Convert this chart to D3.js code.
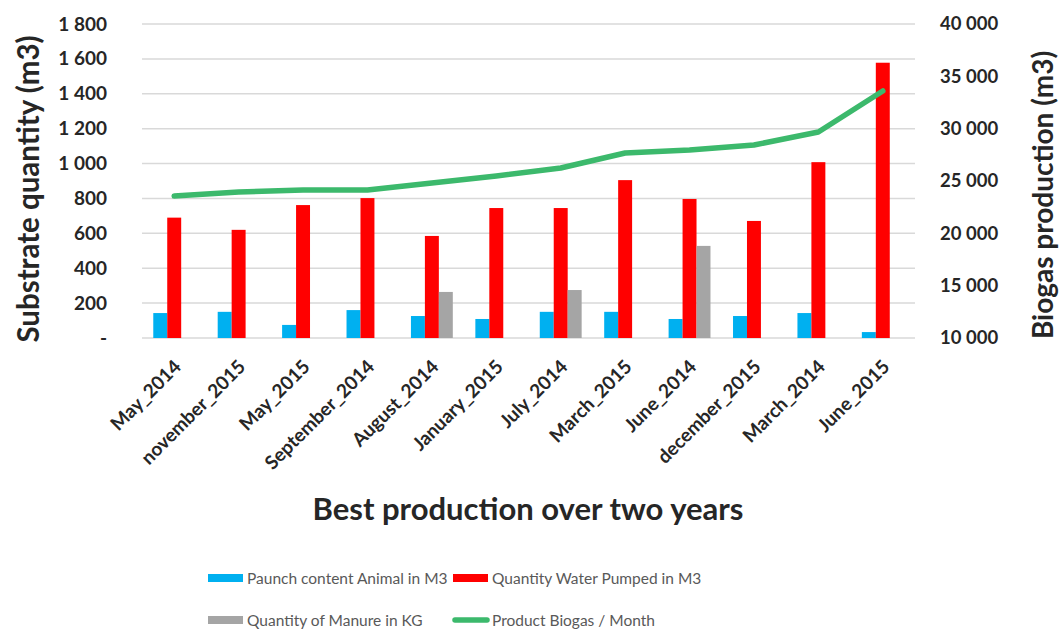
<!DOCTYPE html>
<html>
  <head>
    <meta charset="utf-8" />
    <title>Best production over two years</title>
    <style>
      body { margin: 0; background: #fff; }
      text { font-family: Lato, "Open Sans", sans-serif; }
    </style>
  </head>
  <body>
    <svg id="chart" width="1061" height="630"></svg>
    <script src="https://d3js.org/d3.v7.min.js"></script>
    <script>
      // data
      const months = [
        "May_2014", "november_2015", "May_2015", "September_2014",
        "August_2014", "January_2015", "July_2014", "March_2015",
        "June_2014", "december_2015", "March_2014", "June_2015",
      ];
      const paunch = [143, 150, 75, 160, 126, 109, 150, 150, 109, 126, 143, 34];
      const water = [690, 620, 762, 802, 585, 745, 745, 905, 797, 671, 1008, 1578];
      const manure = [0, 0, 0, 0, 264, 0, 275, 0, 528, 0, 0, 0];
      const biogas = [23570, 23950, 24140, 24140, 24800, 25480, 26240, 27680, 27960, 28440, 29680, 33600];
      const leftTicks = [0, 200, 400, 600, 800, 1000, 1200, 1400, 1600, 1800];
      const rightTicks = [10000, 15000, 20000, 25000, 30000, 35000, 40000];

      const barSeries = [
        { name: "Paunch content Animal in M3", values: paunch, color: "#00b0f0" },
        { name: "Quantity Water Pumped in M3", values: water, color: "#ff0000" },
        { name: "Quantity of Manure  in KG", values: manure, color: "#a5a5a5" },
      ];
      const green = "#3cb96c";

      const svg = d3.select("#chart");
      const plot = { left: 142, right: 915, top: 24, bottom: 338 };

      const x0 = d3
        .scaleBand()
        .domain(months)
        .range([plot.left, plot.right])
        .paddingInner(0.35)
        .paddingOuter(0.175);
      const x1 = d3
        .scaleBand()
        .domain(barSeries.map((s) => s.name))
        .range([0, x0.bandwidth()]);
      const yL = d3.scaleLinear().domain([0, 1800]).range([plot.bottom, plot.top]);
      const yR = d3.scaleLinear().domain([10000, 40000]).range([plot.bottom, plot.top]);

      const fmt = (v) => (v === 0 ? "-" : d3.format(",")(v).replace(/,/g, " "));

      // gridlines
      svg
        .append("g")
        .selectAll("line")
        .data(leftTicks)
        .join("line")
        .attr("x1", plot.left)
        .attr("x2", plot.right)
        .attr("y1", (d) => yL(d))
        .attr("y2", (d) => yL(d))
        .attr("stroke", "#d9d9d9")
        .attr("stroke-width", 1.5);

      // left axis
      const axL = svg
        .append("g")
        .attr("transform", "translate(" + (plot.left - 32) + ",0)")
        .call(d3.axisLeft(yL).tickValues(leftTicks).tickFormat(fmt).tickSize(0));
      axL.select(".domain").remove();
      axL.selectAll("text")
        .attr("font-size", 19)
        .attr("font-weight", "bold")
        .attr("fill", "#262626")
        .style("font-family", "Lato, sans-serif");

      // right axis
      const axR = svg
        .append("g")
        .attr("transform", "translate(" + (plot.right + 22) + ",0)")
        .call(d3.axisRight(yR).tickValues(rightTicks).tickFormat(fmt).tickSize(0));
      axR.select(".domain").remove();
      axR.selectAll("text")
        .attr("font-size", 18.5)
        .attr("font-weight", "bold")
        .attr("fill", "#262626")
        .style("font-family", "Lato, sans-serif");

      // bars
      barSeries.forEach(function (s) {
        svg
          .append("g")
          .selectAll("rect")
          .data(months)
          .join("rect")
          .attr("x", (d) => x0(d) + x1(s.name))
          .attr("width", x1.bandwidth())
          .attr("y", (d, i) => yL(s.values[i]))
          .attr("height", (d, i) => yL(0) - yL(s.values[i]))
          .attr("fill", s.color);
      });

      // biogas line
      const line = d3
        .line()
        .x((d, i) => x0(months[i]) + x0.bandwidth() / 2)
        .y((d) => yR(d));
      svg
        .append("path")
        .datum(biogas)
        .attr("d", line)
        .attr("fill", "none")
        .attr("stroke", green)
        .attr("stroke-width", 5.5)
        .attr("stroke-linejoin", "round")
        .attr("stroke-linecap", "round");

      // x labels
      svg
        .append("g")
        .selectAll("text")
        .data(months)
        .join("text")
        .attr("transform", (d) =>
          "translate(" + (x0(d) + x0.bandwidth() / 2 + 8) + "," + 368 + ") rotate(-45)")
        .attr("text-anchor", "end")
        .attr("font-size", 19)
        .attr("font-weight", "bold")
        .attr("fill", "#262626")
        .text((d) => d);

      // axis titles
      svg
        .append("text")
        .attr("transform", "translate(39,189) rotate(-90)")
        .attr("text-anchor", "middle")
        .attr("font-size", 29.5)
        .attr("font-weight", "bold")
        .attr("fill", "#262626")
        .text("Substrate quantity (m3)");
      svg
        .append("text")
        .attr("transform", "translate(1053,195) rotate(-90)")
        .attr("text-anchor", "middle")
        .attr("font-size", 28)
        .attr("font-weight", "bold")
        .attr("fill", "#262626")
        .text("Biogas production (m3)");
      svg
        .append("text")
        .attr("x", 528)
        .attr("y", 520)
        .attr("text-anchor", "middle")
        .attr("font-size", 31)
        .attr("font-weight", "bold")
        .attr("fill", "#262626")
        .text("Best production over two years");

      // legend
      const legendItems = [
        { name: barSeries[0].name, color: barSeries[0].color, type: "bar", x: 208, y: 578 },
        { name: barSeries[1].name, color: barSeries[1].color, type: "bar", x: 453, y: 578 },
        { name: barSeries[2].name, color: barSeries[2].color, type: "bar", x: 208, y: 620 },
        { name: "Product Biogas / Month", color: green, type: "line", x: 453, y: 620 },
      ];
      const lg = svg
        .append("g")
        .selectAll("g")
        .data(legendItems)
        .join("g")
        .attr("transform", (d) => "translate(" + d.x + "," + d.y + ")");
      lg.filter((d) => d.type === "bar")
        .append("rect")
        .attr("x", 0)
        .attr("y", -4)
        .attr("width", 35)
        .attr("height", 8)
        .attr("fill", (d) => d.color);
      lg.filter((d) => d.type === "line")
        .append("line")
        .attr("x1", 2)
        .attr("x2", 34)
        .attr("stroke", (d) => d.color)
        .attr("stroke-width", 5.5)
        .attr("stroke-linecap", "round");
      lg.append("text")
        .attr("x", 39)
        .attr("y", 6)
        .attr("font-size", 15.5)
        .attr("fill", "#595959")
        .text((d) => d.name);
    </script>
  </body>
</html>
